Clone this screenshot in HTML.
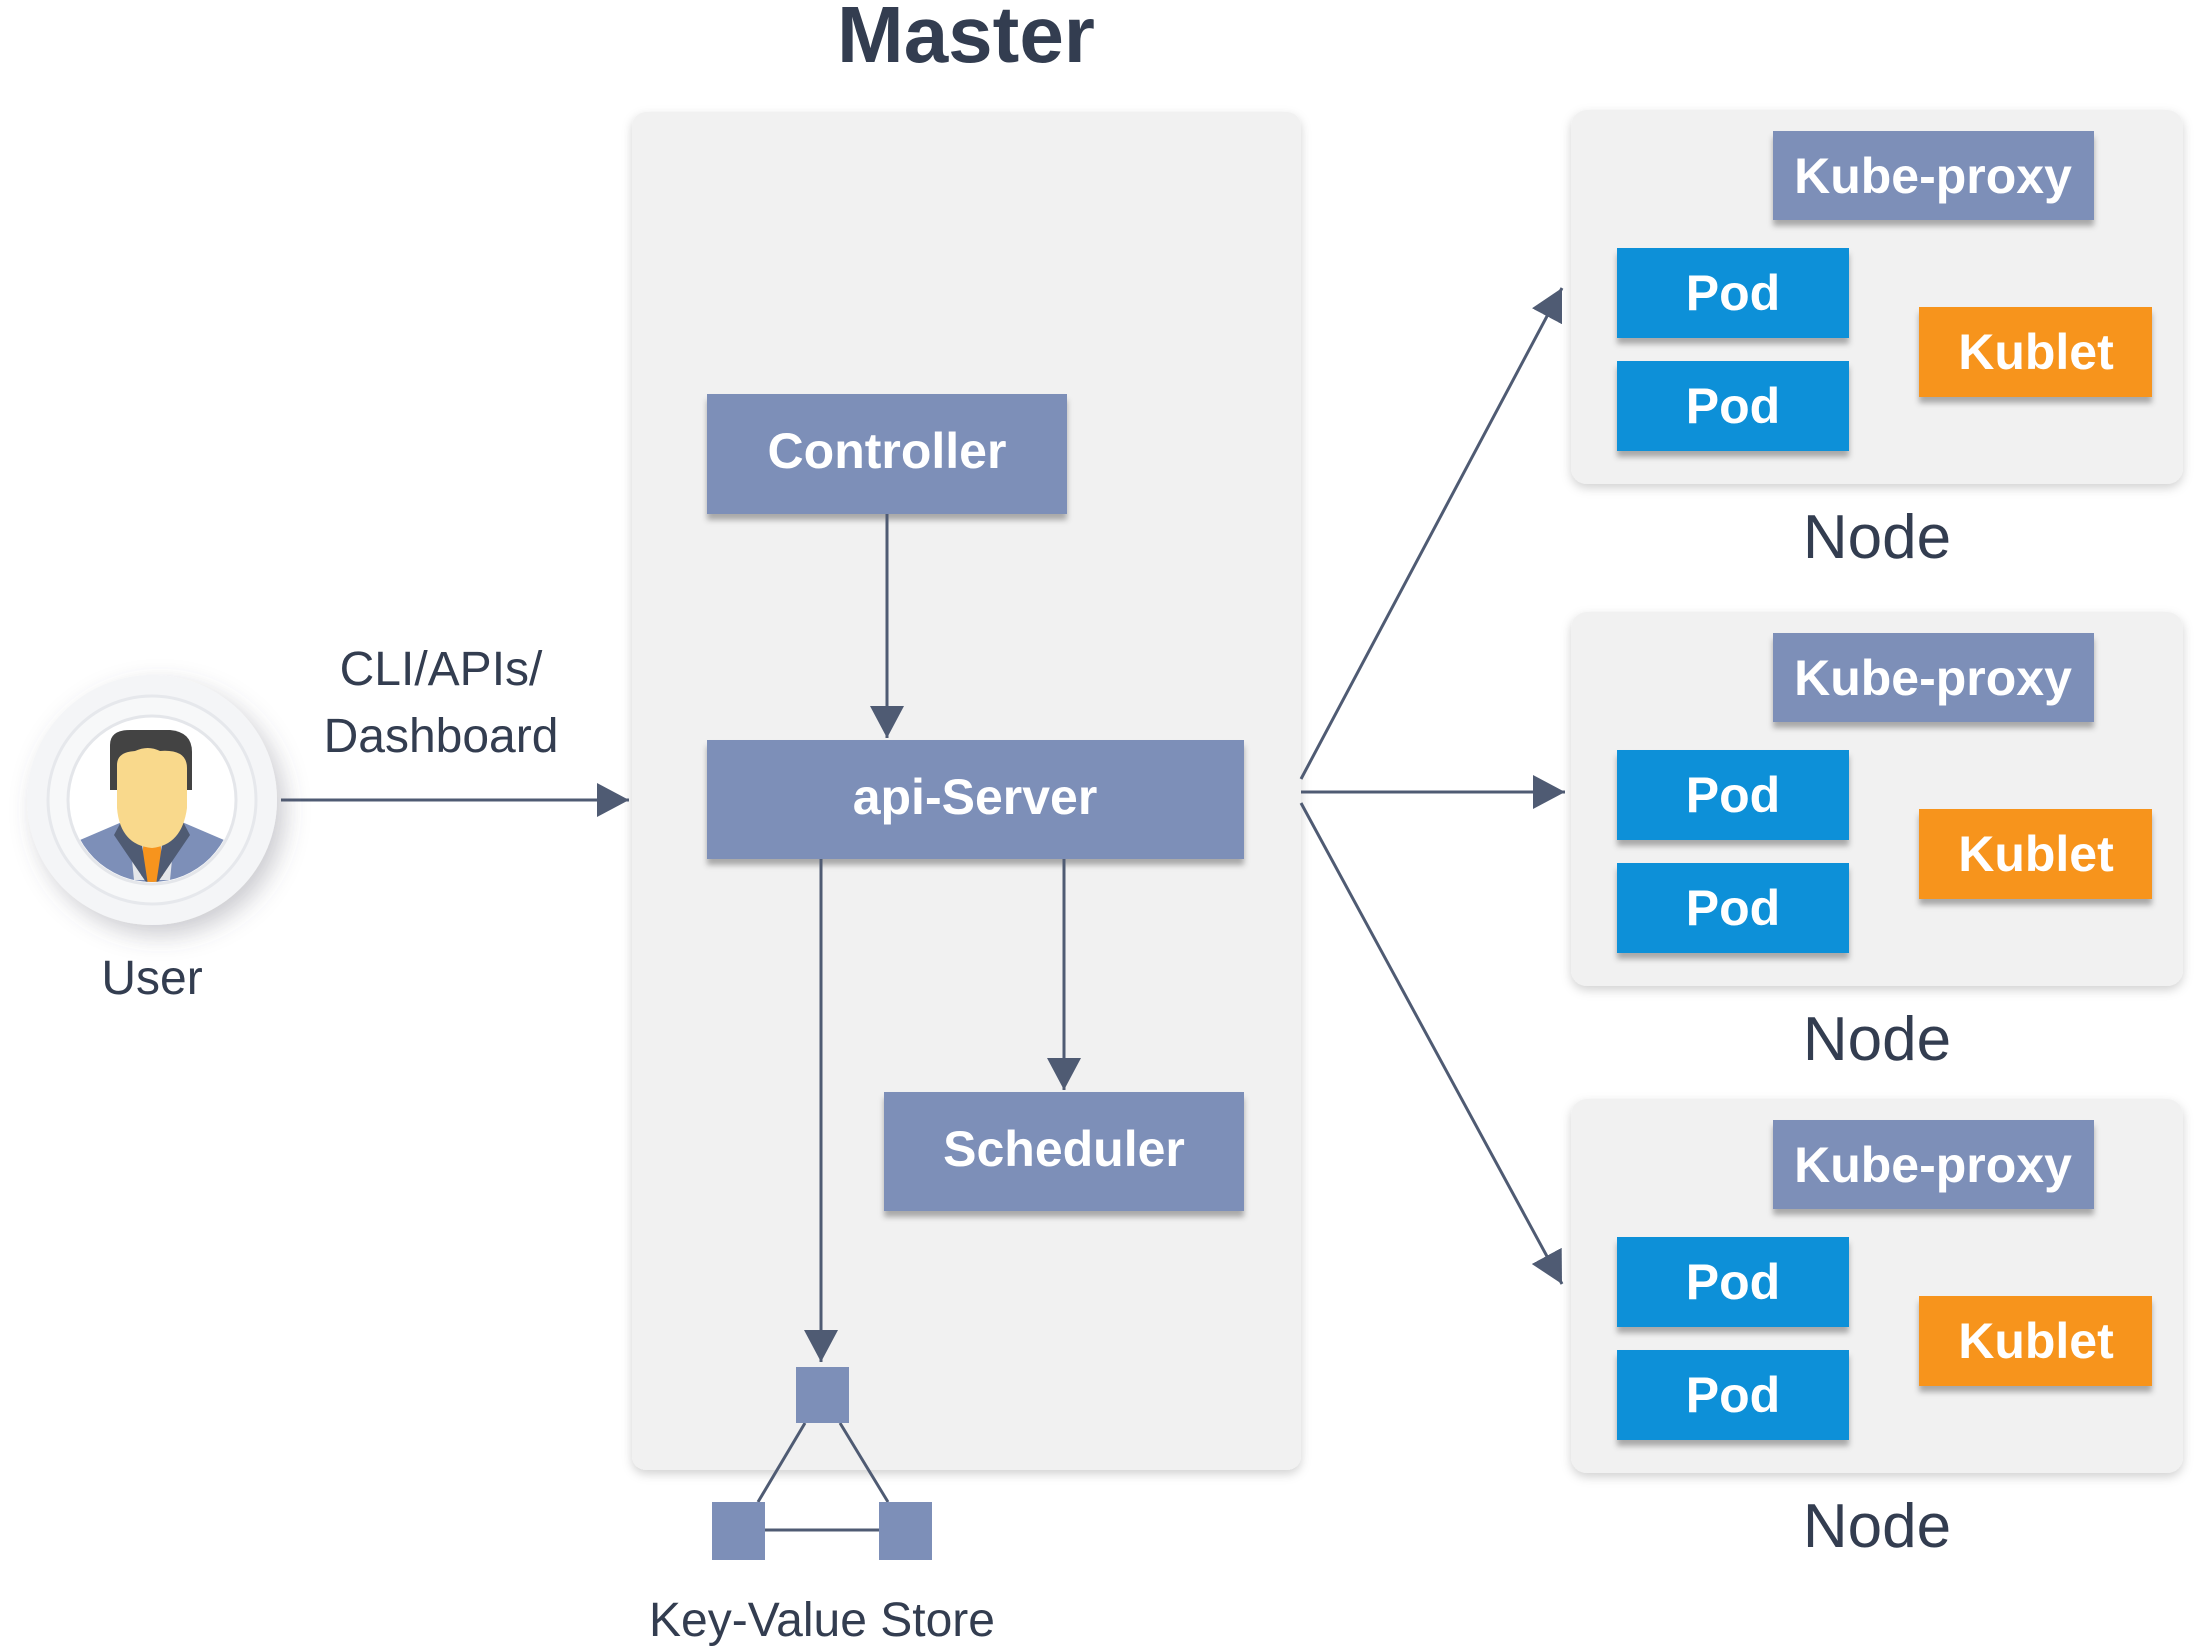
<!DOCTYPE html>
<html><head><meta charset="utf-8"><style>
html,body{margin:0;padding:0;background:#fff;}
svg{display:block;font-family:"Liberation Sans",sans-serif;}
</style></head><body>
<svg width="2201" height="1652" viewBox="0 0 2201 1652" xmlns="http://www.w3.org/2000/svg">
<defs>
<filter id="sh" x="-10%" y="-10%" width="120%" height="130%"><feDropShadow dx="0" dy="4" stdDeviation="5" flood-color="#000" flood-opacity="0.18"/></filter>
<filter id="bs" x="-5%" y="-5%" width="110%" height="130%"><feDropShadow dx="0" dy="6" stdDeviation="3" flood-color="#000" flood-opacity="0.3"/></filter>
<filter id="cs" x="-40%" y="-40%" width="180%" height="180%"><feDropShadow dx="8" dy="10" stdDeviation="12" flood-color="#556" flood-opacity="0.3"/></filter>
<marker id="ah" markerWidth="32" markerHeight="34" refX="32" refY="17" orient="auto" markerUnits="userSpaceOnUse" viewBox="0 0 32 34"><path d="M0,0 L32,17 L0,34 z" fill="#4f5b73"/></marker>
</defs>

<text x="966" y="62" font-size="80" fill="#333d50" text-anchor="middle" font-weight="bold">Master</text>
<rect x="632" y="112" width="669" height="1358" rx="14" fill="#f1f1f1" filter="url(#sh)"/>

<g font-weight="bold" fill="#fff" text-anchor="middle">
<rect x="707" y="394" width="360" height="120" fill="#7d8fb8" filter="url(#bs)"/>
<text x="887" y="468" font-size="50" fill="#fff">Controller</text>
<rect x="707" y="740" width="537" height="119" fill="#7d8fb8" filter="url(#bs)"/>
<text x="975" y="814" font-size="50" fill="#fff">api-Server</text>
<rect x="884" y="1092" width="360" height="119" fill="#7d8fb8" filter="url(#bs)"/>
<text x="1064" y="1166" font-size="50" fill="#fff">Scheduler</text>
</g>

<g stroke="#4f5b73" stroke-width="3" fill="none">
<line x1="887" y1="514" x2="887" y2="738" marker-end="url(#ah)"/>
<line x1="1064" y1="859" x2="1064" y2="1090" marker-end="url(#ah)"/>
<line x1="821" y1="859" x2="821" y2="1362" marker-end="url(#ah)"/>
<line x1="281" y1="800" x2="629" y2="800" marker-end="url(#ah)"/>
<line x1="1301" y1="779" x2="1562" y2="288" marker-end="url(#ah)"/>
<line x1="1301" y1="792" x2="1565" y2="792" marker-end="url(#ah)"/>
<line x1="1301" y1="803" x2="1562" y2="1284" marker-end="url(#ah)"/>
</g>

<g stroke="#4f5b73" stroke-width="3">
<line x1="805" y1="1423" x2="758" y2="1502"/>
<line x1="840" y1="1423" x2="888" y2="1502"/>
<line x1="765" y1="1530" x2="879" y2="1530"/>
</g>
<rect x="796" y="1367" width="53" height="56" fill="#7d8fb8"/>
<rect x="712" y="1502" width="53" height="58" fill="#7d8fb8"/>
<rect x="879" y="1502" width="53" height="58" fill="#7d8fb8"/>
<text x="822" y="1636" font-size="48" fill="#333d50" text-anchor="middle">Key-Value Store</text>

<circle cx="152" cy="800" r="125" fill="#f4f5f7" filter="url(#cs)"/>
<circle cx="152" cy="800" r="104" fill="#f7f8f9" stroke="#e6e8ec" stroke-width="3"/>
<circle cx="152" cy="800" r="84" fill="#fff" stroke="#e4e6ea" stroke-width="3"/>
<clipPath id="cc"><circle cx="152" cy="800" r="82"/></clipPath>
<g clip-path="url(#cc)">
<path d="M80,930 L80,840 L122,822 L182,822 L224,840 L224,930 z" fill="#7d8fb8"/>
<path d="M128,820 L176,820 L170,880 L134,880 z" fill="#e4e6ea"/>
<path d="M145,822 L159,822 L163,875 L152,888 L141,875 z" fill="#f7941d"/>
<path d="M122,820 L142,845 L148,885 L114,835 z M182,820 L162,845 L156,885 L190,835 z" fill="#4f5b73"/>
<rect x="134" y="795" width="36" height="30" fill="#f2c27e"/>
<path d="M110,745 Q110,730 130,730 L170,730 Q192,732 192,752 L192,790 L110,790 z" fill="#434343"/>
<path d="M117,765 Q117,752 135,751 Q148,745 160,751 Q187,749 187,768 L187,808 Q182,845 152,848 Q120,845 117,808 z" fill="#f9d98c"/>
</g>
<text x="152" y="994" font-size="48" fill="#333d50" text-anchor="middle">User</text>

<text x="441" y="685" font-size="48" fill="#333d50" text-anchor="middle">CLI/APIs/</text>
<text x="441" y="752" font-size="48" fill="#333d50" text-anchor="middle">Dashboard</text>

<g id="n1" transform="translate(0,110)">
<rect x="1571" y="0" width="612" height="374" rx="16" fill="#f1f1f1" filter="url(#sh)"/>
<rect x="1773" y="21" width="321" height="89" fill="#7d8fb8" filter="url(#bs)"/>
<text x="1933" y="83" font-size="50" font-weight="bold" fill="#fff" text-anchor="middle">Kube-proxy</text>
<rect x="1617" y="138" width="232" height="90" fill="#0890d8" filter="url(#bs)"/>
<text x="1733" y="200" font-size="50" font-weight="bold" fill="#fff" text-anchor="middle">Pod</text>
<rect x="1617" y="251" width="232" height="90" fill="#0890d8" filter="url(#bs)"/>
<text x="1733" y="313" font-size="50" font-weight="bold" fill="#fff" text-anchor="middle">Pod</text>
<rect x="1919" y="197" width="233" height="90" fill="#f7941d" filter="url(#bs)"/>
<text x="2036" y="259" font-size="50" font-weight="bold" fill="#fff" text-anchor="middle">Kublet</text>
<text x="1877" y="448" font-size="62" fill="#333d50" text-anchor="middle">Node</text>
</g>
<use href="#n1" transform="translate(0,502)"/>
<use href="#n1" transform="translate(0,989)"/>
</svg>
</body></html>
